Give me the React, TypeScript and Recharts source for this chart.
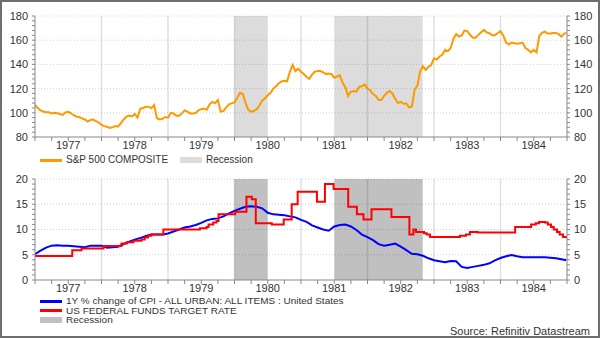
import React from "react";
import { Line, LineChart, ReferenceArea, ReferenceLine, XAxis, YAxis } from "recharts";

const YEARS = [1977, 1978, 1979, 1980, 1981, 1982, 1983, 1984];

// S&P 500 composite, two readings per month
const SP_1977 = [106.5, 104, 102, 101, 100.5, 100.4, 99.5, 100, 99.6, 99, 98.2, 100.4, 100.8, 99.6, 98, 96.8, 96.5, 95.4, 94.5, 92.7, 94, 94.5, 93.2, 92];
const SP_1978 = [90, 89, 88.5, 87.5, 88, 89, 88.5, 91.5, 94.5, 96.8, 97.8, 97, 99, 96, 103.5, 104, 105, 105, 103.7, 106.5, 95.5, 94.5, 95, 96.5];
const SP_1979 = [96, 100, 99.5, 97.5, 97.5, 99.5, 102, 101, 99.5, 99.5, 99.8, 102, 103, 103.5, 102.5, 107, 109, 108, 110.5, 101, 101.5, 104.5, 107, 107.8];
const SP_1980 = [108.5, 112.5, 116.5, 115.5, 108, 102.5, 101, 101.5, 103, 106, 110, 112, 114.5, 116.5, 120, 122, 124.5, 126, 126.5, 126, 134, 139.5, 134.5, 136.5];
const SP_1981 = [134, 132, 129.5, 128, 131.5, 134, 134.5, 134.5, 133.5, 132, 132.5, 132, 129, 130, 131, 125, 121, 114, 117.5, 118, 117.5, 121.6, 122, 123.5];
const SP_1982 = [120, 118.5, 115.5, 114, 110.5, 110.5, 114, 116.5, 118, 116, 111.5, 108, 109, 107.5, 107.8, 104.5, 105, 119, 122.5, 134, 138.5, 135.5, 138, 139.5];
const SP_1983 = [145, 144, 146.5, 148, 152, 151, 153.5, 161, 165, 163, 164, 168, 167.5, 164.5, 162, 162, 164.4, 166.5, 168.5, 166.5, 165.8, 164, 164, 166];
const SP_1984 = [167.5, 164, 158, 156.5, 158, 157.5, 157, 157.5, 158, 153.5, 152, 150, 152, 150, 163.5, 166, 167, 165.5, 165.5, 166, 166, 165, 163, 165.5];
const SP_LAST = 166;
const SP_BY_YEAR = [SP_1977, SP_1978, SP_1979, SP_1980, SP_1981, SP_1982, SP_1983, SP_1984];

// CPI all urban, 1Y % change, monthly
const CPI_1977 = [5.1, 5.8, 6.4, 6.8, 6.9, 6.8, 6.8, 6.7, 6.6, 6.5, 6.8, 6.8];
const CPI_1978 = [6.8, 6.4, 6.5, 6.6, 7.1, 7.6, 8.0, 8.3, 8.7, 9.0, 9.0, 9.0];
const CPI_1979 = [9.2, 9.6, 10.0, 10.4, 10.6, 10.9, 11.3, 11.8, 12.1, 12.2, 12.6, 13.2];
const CPI_1980 = [13.7, 14.1, 14.5, 14.6, 14.5, 14.2, 13.3, 13.0, 12.9, 12.8, 12.6, 12.4];
const CPI_1981 = [11.9, 11.5, 10.8, 10.4, 10.0, 9.75, 10.6, 10.9, 11.0, 10.6, 9.9, 9.0];
const CPI_1982 = [8.5, 7.9, 7.1, 6.8, 7.0, 7.2, 6.6, 5.9, 5.2, 5.1, 4.8, 4.3];
const CPI_1983 = [3.9, 3.7, 3.5, 3.75, 3.7, 2.6, 2.4, 2.6, 2.8, 3.0, 3.3, 3.9];
const CPI_1984 = [4.35, 4.7, 4.95, 4.7, 4.5, 4.5, 4.5, 4.5, 4.5, 4.4, 4.3, 4.1];
const CPI_LAST = 3.9;
const CPI_BY_YEAR = [CPI_1977, CPI_1978, CPI_1979, CPI_1980, CPI_1981, CPI_1982, CPI_1983, CPI_1984];

// Fed funds target: date of each change and the new rate
const FED_DATES = [
  1977.0, 1977.56, 1977.7, 1978.03, 1978.3, 1978.38, 1978.48, 1978.6, 1978.65, 1978.7, 1978.75, 1978.93,
  1979.48, 1979.58, 1979.61, 1979.68, 1979.73, 1979.76, 1980.01, 1980.18, 1980.26, 1980.32, 1980.56, 1980.74,
  1980.86, 1980.95, 1981.24, 1981.36, 1981.49, 1981.71, 1981.84, 1981.94, 1982.06, 1982.36, 1982.63, 1982.69,
  1982.73, 1982.85, 1982.89, 1982.94, 1983.39, 1983.48, 1983.54, 1983.66, 1984.22, 1984.46, 1984.53, 1984.58,
  1984.67, 1984.71, 1984.76, 1984.8, 1984.85, 1984.89, 1984.94, 1984.99,
];
const FED_RATES = [
  4.75, 5.9, 6.25, 6.75, 7.25, 7.5, 7.75, 8.0, 8.4, 8.75, 9.0, 10.0,
  10.25, 10.5, 11.0, 11.4, 11.7, 13.0, 13.5, 16.5, 16.0, 11.25, 11.0, 12.0,
  15.0, 17.5, 15.5, 19.0, 18.0, 14.5, 13.0, 12.0, 14.0, 12.5, 9.0, 10.0,
  9.5, 9.25, 9.0, 8.5, 8.75, 9.0, 9.5, 9.4, 10.5, 11.0, 11.25, 11.5,
  11.4, 11.0, 10.5, 10.0, 9.5, 9.0, 8.5, 8.25,
];

const RECESSIONS = [
  [1980.0, 1980.5],
  [1981.5, 1982.83],
];

const spData = YEARS.flatMap((y, k) => SP_BY_YEAR[k].map((v, i) => ({ t: y + i / 24, v }))).concat({ t: 1984.99, v: SP_LAST });
const cpiData = YEARS.flatMap((y, k) => CPI_BY_YEAR[k].map((v, i) => ({ t: y + i / 12, v }))).concat({ t: 1984.99, v: CPI_LAST });
const fedData = FED_DATES.map((t, i) => ({ t, v: FED_RATES[i] }));

const QUARTERS = YEARS.flatMap((y) => [y, y + 0.25, y + 0.5, y + 0.75]).concat(1985);
const FONT = "'Liberation Sans', Arial, sans-serif";
const TEXT = "#333";
const AXIS = "#888";

const yearLabel = (t: number) => (Math.abs(t - Math.floor(t) - 0.5) < 1e-6 ? String(Math.floor(t)) : "");

function frame(min: number, max: number, minor: number, major: number, shade: string) {
  const ticks: number[] = [];
  for (let v = min; v <= max; v += minor) ticks.push(v);
  const majors = ticks.filter((v) => v % major === 0 && v > min);
  const fmt = (v: number) => (v % major === 0 ? String(v) : "");
  const tick = { fill: TEXT, fontSize: 11, fontFamily: FONT };
  return [
    <XAxis key="x" dataKey="t" type="number" domain={[1977, 1985]} ticks={QUARTERS} interval={0}
      tickFormatter={yearLabel} tick={tick} tickSize={4} tickMargin={0} height={20}
      axisLine={{ stroke: AXIS }} tickLine={{ stroke: AXIS }} allowDataOverflow />,
    <YAxis key="yl" yAxisId="left" orientation="left" domain={[min, max]} ticks={ticks} interval={0}
      tickFormatter={fmt} tick={tick} width={35} tickSize={3} tickMargin={4}
      axisLine={{ stroke: AXIS }} tickLine={{ stroke: AXIS }} allowDataOverflow />,
    <YAxis key="yr" yAxisId="right" orientation="right" domain={[min, max]} ticks={ticks} interval={0}
      tickFormatter={fmt} tick={tick} width={33} tickSize={3} tickMargin={4}
      axisLine={{ stroke: AXIS }} tickLine={{ stroke: AXIS }} allowDataOverflow />,
    ...RECESSIONS.map(([a, b], i) => (
      <ReferenceArea key={"r" + i} yAxisId="left" x1={a} x2={b} y1={min} y2={max} fill={shade} fillOpacity={1} stroke="none" />
    )),
    ...majors.map((v) => (
      <ReferenceLine key={"h" + v} yAxisId="left" y={v} stroke="rgba(0,0,0,0.18)" strokeDasharray="1 2" />
    )),
    ...YEARS.slice(1).map((y) => (
      <ReferenceLine key={"v" + y} yAxisId="left" x={y} stroke="rgba(0,0,0,0.12)" strokeWidth={1.5} />
    )),
  ];
}

const legendText: React.CSSProperties = {
  position: "absolute", fontFamily: FONT, fontSize: 10, color: TEXT, lineHeight: "10px", height: 10, whiteSpace: "nowrap",
};

// the stacked legend rows sit very close together, so their text is a little squeezed in height
const tightText: React.CSSProperties = { ...legendText, transform: "scaleY(0.84)", transformOrigin: "left center" };

function Swatch({ x, y, color, box }: { x: number; y: number; color: string; box?: boolean }) {
  return (
    <div style={{ position: "absolute", left: x, top: box ? y - 3 : y - 1.5, width: 22, height: box ? 6 : 3, background: color }} />
  );
}

export default function App() {
  return (
    <div style={{ position: "absolute", left: 0, top: 0, width: 600, height: 338, background: "#fff", overflow: "hidden" }}>
      <div style={{ position: "absolute", left: 0, top: 0 }}>
        <LineChart width={600} height={160} margin={{ top: 16, right: 0, bottom: 3, left: 0 }}>
          {frame(80, 180, 4, 20, "#dcdcdc")}
          <Line yAxisId="left" data={spData} dataKey="v" type="linear" stroke="#ff9900" strokeWidth={2}
            dot={false} isAnimationActive={false} name="S&P 500 COMPOSITE" />
        </LineChart>
      </div>
      <Swatch x={40} y={160} color="#ff9900" />
      <div style={{ ...legendText, left: 66, top: 155 }}>S&amp;P 500 COMPOSITE</div>
      <Swatch x={180} y={160} color="#dcdcdc" box />
      <div style={{ ...legendText, left: 206, top: 155 }}>Recession</div>

      <div style={{ position: "absolute", left: 0, top: 165 }}>
        <LineChart width={600} height={140} margin={{ top: 14, right: 0, bottom: 5, left: 0 }}>
          {frame(0, 20, 1, 5, "#c0c0c0")}
          <Line yAxisId="left" data={cpiData} dataKey="v" type="linear" stroke="#0000ff" strokeWidth={2}
            dot={false} isAnimationActive={false} name="CPI" />
          <Line yAxisId="left" data={fedData} dataKey="v" type="stepAfter" stroke="#ff0000" strokeWidth={2}
            dot={false} isAnimationActive={false} name="Fed funds" />
        </LineChart>
      </div>
      <Swatch x={40} y={301} color="#0000ff" />
      <div style={{ ...tightText, left: 66, top: 296 }}>1Y % change of CPI - ALL URBAN: ALL ITEMS : United States</div>
      <Swatch x={40} y={310.7} color="#ff0000" />
      <div style={{ ...tightText, left: 66, top: 305.7 }}>US FEDERAL FUNDS TARGET RATE</div>
      <Swatch x={40} y={320.4} color="#c0c0c0" box />
      <div style={{ ...tightText, left: 66, top: 315.4 }}>Recession</div>
      <div style={{ ...legendText, fontSize: 11, lineHeight: "12px", height: 12, right: 10, top: 325 }}>Source: Refinitiv Datastream</div>

      <div style={{ position: "absolute", left: 0, top: 0, width: 600, height: 338, boxSizing: "border-box",
        border: "2px solid #6e6e6e", pointerEvents: "none" }} />
    </div>
  );
}
